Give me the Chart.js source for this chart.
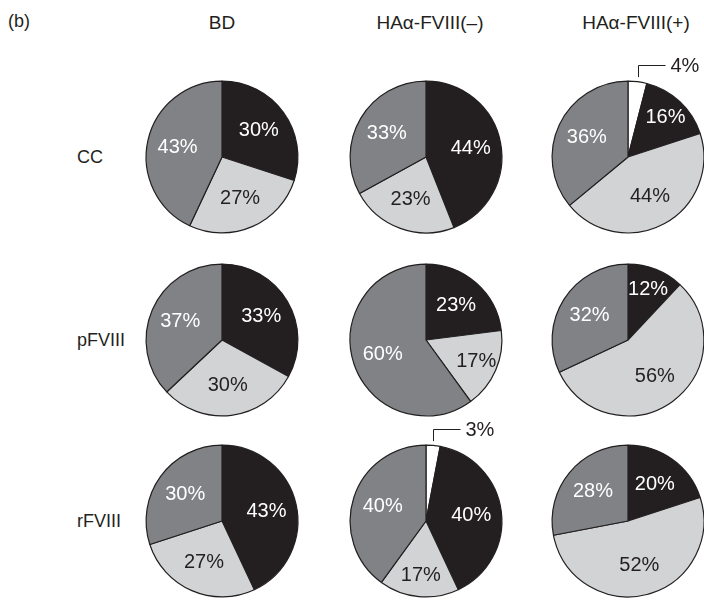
<!DOCTYPE html>
<html>
<head>
<meta charset="utf-8">
<script src="https://cdn.jsdelivr.net/npm/chart.js@4/dist/chart.umd.min.js"></script>
<style>
  html, body { margin: 0; padding: 0; background: #fff; }
  #stage { position: relative; width: 704px; height: 600px; overflow: hidden;
           font-family: "Liberation Sans", Arial, Helvetica, sans-serif; color: #231f20; }
  .hdr, .row, .tag { position: absolute; line-height: 1; white-space: nowrap; }
  .hdr { font-size: 19px; transform: translate(-50%, -50%); }
  .row { font-size: 18px; transform: translateY(-50%); }
  .tag { font-size: 18px; transform: translateY(-50%); }
  canvas { position: absolute; }
</style>
</head>
<body>
<div id="stage"></div>
<script>
// Panel text
const panelTag = '(b)';
const columns = ['BD', 'HAα-FVIII(–)', 'HAα-FVIII(+)'];
const rows = ['CC', 'pFVIII', 'rFVIII'];

// Slice categories, drawn clockwise from 12 o'clock
const sliceNames = ['white', 'black', 'light grey', 'dark grey'];
const sliceColors = ['#ffffff', '#231f20', '#d1d3d4', '#808285'];
const sliceText = ['#231f20', '#ffffff', '#231f20', '#ffffff'];

// Percentages per column (BD, HAα-FVIII(–), HAα-FVIII(+)), in slice order
const ccShares = [[0, 30, 27, 43], [0, 44, 23, 33], [4, 16, 44, 36]];
const pFVIIIShares = [[0, 33, 30, 37], [0, 23, 17, 60], [0, 12, 56, 32]];
const rFVIIIShares = [[0, 43, 27, 30], [3, 40, 17, 40], [0, 20, 52, 28]];
const sharesByRow = [ccShares, pFVIIIShares, rFVIIIShares];

// Layout
const colX = [222, 426, 628];
const headerX = [222, 430, 636];
const rowY = [157, 340, 521];
const CANVAS = 200;
const PAD = 23.5;          // leaves a 76px radius
const FONT = '20px "Liberation Sans", Arial, Helvetica, sans-serif';

const stage = document.getElementById('stage');

function addText(cls, text, x, y) {
  const d = document.createElement('div');
  d.className = cls;
  d.textContent = text;
  d.style.left = x + 'px';
  d.style.top = y + 'px';
  stage.appendChild(d);
}

addText('tag', panelTag, 8, 21);
columns.forEach((c, i) => addText('hdr', c, headerX[i], 22));
rows.forEach((r, i) => addText('row', r, 77, rowY[i]));

// Percent labels inside slices; tiny slices get a leader line above the pie
const sliceLabels = {
  id: 'sliceLabels',
  afterDatasetsDraw(chart) {
    const ctx = chart.ctx;
    const meta = chart.getDatasetMeta(0);
    const ds = chart.data.datasets[0];
    ctx.save();
    ctx.font = FONT;
    meta.data.forEach((arc, i) => {
      const v = ds.data[i];
      const p = arc.getProps(['x', 'y', 'startAngle', 'endAngle', 'outerRadius'], true);
      const mid = (p.startAngle + p.endAngle) / 2;
      const r = p.outerRadius;
      if (v < 6) {
        const lx = Math.round(p.x + Math.cos(mid) * r) + 0.5;
        const top = p.y - r;
        const ly = Math.round(top - 16) + 0.5;
        ctx.strokeStyle = '#231f20';
        ctx.lineWidth = 1;
        ctx.beginPath();
        ctx.moveTo(lx, top - 4);
        ctx.lineTo(lx, ly);
        ctx.lineTo(lx + 27, ly);
        ctx.stroke();
        ctx.fillStyle = '#231f20';
        ctx.textAlign = 'left';
        ctx.textBaseline = 'middle';
        ctx.fillText(v + '%', lx + 32, ly + 1);
        return;
      }
      const f = v < 20 ? 0.72 : 0.6;
      ctx.fillStyle = ds.textColors[i];
      ctx.textAlign = 'center';
      ctx.textBaseline = 'middle';
      ctx.fillText(v + '%', p.x + Math.cos(mid) * r * f, p.y + Math.sin(mid) * r * f);
    });
    ctx.restore();
  }
};

sharesByRow.forEach((rowShares, ri) => {
  rowShares.forEach((shares, ci) => {
    const keep = shares.map((v, k) => k).filter(k => shares[k] > 0);
    const cv = document.createElement('canvas');
    cv.width = CANVAS;
    cv.height = CANVAS;
    cv.style.left = (colX[ci] - CANVAS / 2) + 'px';
    cv.style.top = (rowY[ri] - CANVAS / 2) + 'px';
    stage.appendChild(cv);
    new Chart(cv, {
      type: 'pie',
      data: {
        labels: keep.map(k => sliceNames[k]),
        datasets: [{
          data: keep.map(k => shares[k]),
          backgroundColor: keep.map(k => sliceColors[k]),
          textColors: keep.map(k => sliceText[k]),
          borderColor: '#231f20',
          borderWidth: 1.2
        }]
      },
      options: {
        responsive: false,
        animation: false,
        layout: { padding: PAD },
        plugins: { legend: { display: false }, tooltip: { enabled: false } }
      },
      plugins: [sliceLabels]
    });
  });
});
</script>
</body>
</html>
